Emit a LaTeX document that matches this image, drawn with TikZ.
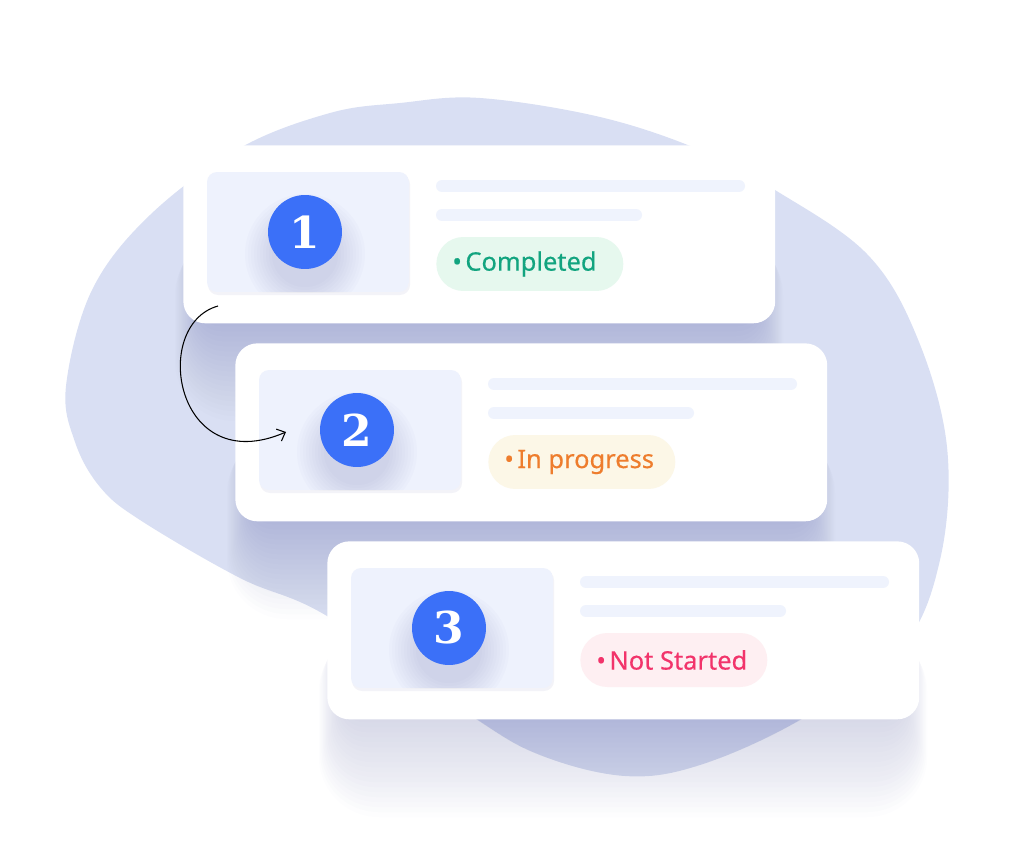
\documentclass[tikz,border=0pt]{standalone}
\usepackage{fontspec}
\setsansfont{Noto Sans}[FakeBold=0.4]
\newfontfamily\numfont{DejaVu Serif}
\usepackage{xcolor}
\definecolor{blobbg}{HTML}{D9DFF3}
\definecolor{shadowc}{HTML}{6B70AA}
\definecolor{thumbbg}{HTML}{EEF2FD}
\definecolor{barbg}{HTML}{EFF3FD}
\definecolor{numblue}{HTML}{3B70F8}
\definecolor{donetxt}{HTML}{12A47F}
\definecolor{donebg}{HTML}{E6F8EE}
\definecolor{progtxt}{HTML}{EE7D2D}
\definecolor{progbg}{HTML}{FCF7E7}
\definecolor{todotxt}{HTML}{F2346B}
\definecolor{todobg}{HTML}{FEEFF2}
\usetikzlibrary{arrows.meta, positioning}

\begin{document}
\begin{tikzpicture}[x=0.02cm, y=-0.02cm,
  card/.style={fill=white, rounded corners=0.44cm, anchor=north west,
               minimum width=11.84cm, minimum height=3.56cm, inner sep=0pt},
  numdot/.style={circle, fill=numblue, text=white, minimum size=1.48cm,
                 inner sep=0pt, font=\numfont\bfseries\fontsize{25}{25}\selectfont},
  bar/.style={draw=barbg, line width=0.24cm, line cap=round},
  pill/.style={anchor=west, rounded corners=0.54cm, minimum height=1.08cm,
               inner xsep=0.32cm, font=\sffamily\fontsize{14.5}{15}\selectfont},
  flowarrow/.style={-{Straight Barb[length=1.4mm, width=2.6mm]},
                    line width=0.6pt, black}]
  \useasboundingbox (0,0) rectangle (1024,858);

  % background blob
  \fill[blobbg] plot[smooth cycle, tension=0.6] coordinates {
    (400,103) (480,98) (600,117) (700,150) (775,190) (867,254) (917,337)
    (947,447) (940,560) (900,650) (800,720) (700,765) (625,776) (540,755)
    (470,715) (327,616) (240,578) (140,520) (100,487) (75,442) (66,386)
    (92,290) (150,215) (240,148) (330,113)};

  \foreach \n/\x/\y/\status/\tc/\pc in
    {1/183/145/Completed/donetxt/donebg,
     2/235/343/In progress/progtxt/progbg,
     3/327/541/Not Started/todotxt/todobg} {
    % soft shadow
    \foreach \k in {1,...,20}
      \fill[shadowc, opacity=0.014, rounded corners={0.4cm+0.04cm*\k}]
        (\x+16-1.2*\k, \y+70+\k) rectangle (\x+576+1.2*\k, \y+176+5*\k);
    \node[card] (card\n) at (\x,\y) {};
    \fill[shadowc, opacity=0.08, rounded corners=0.2cm]
      (\x+25,\y+29) rectangle (\x+227,\y+150);
    \begin{scope}
      \clip[rounded corners=0.2cm] (\x+24,\y+27) rectangle (\x+226,\y+147);
      \fill[thumbbg] (\x+24,\y+27) rectangle (\x+226,\y+147);
      \foreach \k in {1,...,10}
        \fill[shadowc, opacity=0.022] (\x+122,\y+109)
          circle[radius={0.6cm+0.06cm*\k}];
    \end{scope}
    \node[numdot] (num\n) at (\x+122,\y+87) {\n};
    \draw[bar] (\x+259,\y+41) -- (\x+556,\y+41);
    \draw[bar] (\x+259,\y+70) -- (\x+453,\y+70);
    \node[pill, fill=\pc, text=\tc] (status\n) at (\x+253,\y+119)
      {\makebox[3.1cm][l]{•\hspace{2pt}\status}};
  }

  \coordinate (loopstart) at (218,306);
  \coordinate (loopend) at (286,432);
  \draw[flowarrow] (loopstart) .. controls (150,325) and (175,480) .. (loopend);
\end{tikzpicture}
\end{document}
